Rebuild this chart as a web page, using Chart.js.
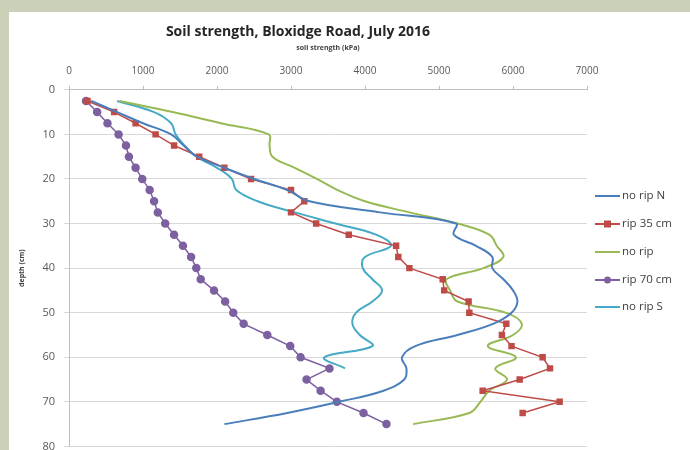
<!DOCTYPE html>
<html>
<head>
<meta charset="utf-8">
<script src="https://cdn.jsdelivr.net/npm/chart.js@4"></script>
<style>
  html, body { margin: 0; padding: 0; background: #cad1b8; }
  #wrap { position: absolute; left: 9px; top: 12px; width: 681px; height: 438px; background: #ffffff; overflow: hidden; }
  #inner { position: absolute; left: 0; top: 0; width: 681px; height: 450px; }
</style>
</head>
<body>
<div id="wrap"><div id="inner"><canvas id="soilChart"></canvas></div></div>
<script>
// depth (cm) for each reading
const depth30 = [2.5, 5, 7.5, 10, 12.5, 15, 17.5, 20, 22.5, 25, 27.5, 30, 32.5, 35, 37.5,
                 40, 42.5, 45, 47.5, 50, 52.5, 55, 57.5, 60, 62.5, 65, 67.5, 70, 72.5, 75];
const depth29 = [2.5, 5, 7.5, 10, 12.5, 15, 17.5, 20, 22.5, 25, 27.5, 30, 32.5, 35, 37.5,
                 40, 42.5, 45, 47.5, 50, 52.5, 55, 57.5, 60, 62.5, 65, 67.5, 70, 72.5];
const depth25 = [2.5, 5, 7.5, 10, 12.5, 15, 17.5, 20, 22.5, 25, 27.5, 30, 32.5, 35, 37.5,
                 40, 42.5, 45, 47.5, 50, 52.5, 55, 57.5, 60, 62.5];

// soil strength (kPa)
const noRipN = [300, 650, 1000, 1380, 1550, 1730, 2100, 2500, 2950, 3250, 4200, 5230, 5200, 5500, 5720,
                5720, 5870, 6000, 6060, 5980, 5730, 5250, 4680, 4500, 4560, 4530, 4250, 3650, 2950, 2100];
const rip35 = [250, 610, 900, 1170, 1420, 1760, 2100, 2460, 3000, 3180, 3000, 3340, 3780, 4420, 4450,
               4600, 5050, 5070, 5400, 5410, 5910, 5850, 5980, 6400, 6500, 6090, 5590, 6630, 6130];
const noRip = [680, 1400, 2050, 2700, 2710, 2750, 3050, 3350, 3630, 4000, 4600, 5250, 5680, 5780, 5870,
               5600, 5100, 5150, 5250, 5900, 6120, 6000, 5660, 6040, 5760, 5920, 5680, 5560, 5410, 4650];
const rip70 = [230, 380, 520, 670, 770, 810, 900, 990, 1090, 1150, 1200, 1300, 1420, 1540, 1650,
               1720, 1780, 1960, 2110, 2220, 2360, 2680, 2990, 3130, 3520, 3210, 3400, 3620, 3980, 4290];
const noRipS = [650, 1150, 1380, 1440, 1560, 1720, 2000, 2200, 2260, 2550, 3050, 3600, 4150, 4350, 4000,
                3970, 4100, 4230, 4100, 3880, 3830, 3930, 4100, 3450, 3730];

const seriesNames = ['no rip N', 'rip 35 cm', 'no rip', 'rip 70 cm', 'no rip S'];
const strengthTicks = [0, 1000, 2000, 3000, 4000, 5000, 6000, 7000];
const depthTicks = [0, 10, 20, 30, 40, 50, 60, 70, 80];

function pairs(xs, ys) {
    return xs.map((v, i) => ({ x: v, y: ys[i] }));
}

// legend drawn in the right margin, line with marker like the spreadsheet
const sideLegend = {
    id: 'sideLegend',
    afterDraw(chart) {
        const ctx = chart.ctx;
        const rows = [184, 212, 240, 268, 295];
        ctx.save();
        chart.data.datasets.forEach((ds, i) => {
            const y = rows[i];
            ctx.strokeStyle = ds.borderColor;
            ctx.lineWidth = 2;
            ctx.beginPath();
            ctx.moveTo(586, y);
            ctx.lineTo(611, y);
            ctx.stroke();
            if (ds.pointRadius > 0) {
                ctx.fillStyle = ds.pointBackgroundColor;
                ctx.beginPath();
                if (ds.pointStyle === 'rect') {
                    ctx.rect(595, y - 3.5, 7, 7);
                } else {
                    ctx.arc(598.5, y, 3.5, 0, Math.PI * 2);
                }
                ctx.fill();
            }
            ctx.fillStyle = '#404040';
            ctx.font = '11.5px "Open Sans"';
            ctx.textBaseline = 'middle';
            ctx.fillText(ds.label, 613, y);
        });
        ctx.restore();
    }
};

const ctxSoil = document.getElementById('soilChart').getContext('2d');
const soilChart = new Chart(ctxSoil, {
    type: 'scatter',
    data: {
        datasets: [{
            label: seriesNames[0],
            data: pairs(noRipN, depth30),
            borderColor: '#4a7ebb',
            borderWidth: 2,
            pointRadius: 0,
            showLine: true,
            tension: 0.4
        }, {
            label: seriesNames[1],
            data: pairs(rip35, depth29),
            borderColor: '#be4b48',
            backgroundColor: '#be4b48',
            pointBackgroundColor: '#be4b48',
            pointBorderColor: '#be4b48',
            pointStyle: 'rect',
            pointRadius: 3.5,
            borderWidth: 1.5,
            showLine: true,
            tension: 0
        }, {
            label: seriesNames[2],
            data: pairs(noRip, depth30),
            borderColor: '#98b954',
            borderWidth: 2,
            pointRadius: 0,
            showLine: true,
            tension: 0.4
        }, {
            label: seriesNames[3],
            data: pairs(rip70, depth30),
            borderColor: '#7d60a0',
            backgroundColor: '#7d60a0',
            pointBackgroundColor: '#7d60a0',
            pointBorderColor: '#7d60a0',
            pointStyle: 'circle',
            pointRadius: 3.5,
            borderWidth: 1.5,
            showLine: true,
            tension: 0
        }, {
            label: seriesNames[4],
            data: pairs(noRipS, depth25),
            borderColor: '#46aac5',
            borderWidth: 2,
            pointRadius: 0,
            showLine: true,
            tension: 0.4
        }]
    },
    options: {
        responsive: true,
        maintainAspectRatio: false,
        animation: false,
        layout: { padding: { left: 0, right: 103, top: 12, bottom: 0 } },
        plugins: {
            legend: { display: false },
            tooltip: { enabled: false },
            title: {
                display: true,
                text: 'Soil strength, Bloxidge Road, July 2016',
                color: '#262626',
                font: { family: '"Open Sans"', size: 14, weight: 'bold' },
                padding: { top: 0, bottom: 3 }
            }
        },
        scales: {
            x: {
                type: 'linear',
                position: 'top',
                min: 0,
                max: 7000,
                afterBuildTicks: axis => { axis.ticks = strengthTicks.map(v => ({ value: v })); },
                afterFit: axis => { axis.height = 46; },
                ticks: {
                    color: '#595959',
                    font: { family: '"Open Sans"', size: 10 },
                    padding: 9,
                    callback: v => String(v)
                },
                grid: { drawOnChartArea: false, drawTicks: true, tickLength: 4, color: '#bfbfbf' },
                border: { color: '#bfbfbf' },
                title: {
                    display: true,
                    text: 'soil strength (kPa)',
                    color: '#404040',
                    font: { family: '"Open Sans"', size: 7, weight: 'bold' },
                    padding: { top: 0, bottom: 8 }
                }
            },
            y: {
                type: 'linear',
                reverse: true,
                min: 0,
                max: 80,
                afterBuildTicks: axis => { axis.ticks = depthTicks.map(v => ({ value: v })); },
                afterFit: axis => { axis.width = 60; },
                ticks: {
                    color: '#595959',
                    font: { family: '"Open Sans"', size: 11 },
                    padding: 9,
                    callback: v => String(v)
                },
                grid: { color: '#d9d9d9', tickLength: 5 },
                border: { color: '#bfbfbf' },
                title: {
                    display: true,
                    text: 'depth (cm)',
                    color: '#404040',
                    font: { family: '"Open Sans"', size: 7, weight: 'bold' },
                    padding: { top: 9, bottom: 0 }
                }
            }
        }
    },
    plugins: [sideLegend]
});
</script>
</body>
</html>
